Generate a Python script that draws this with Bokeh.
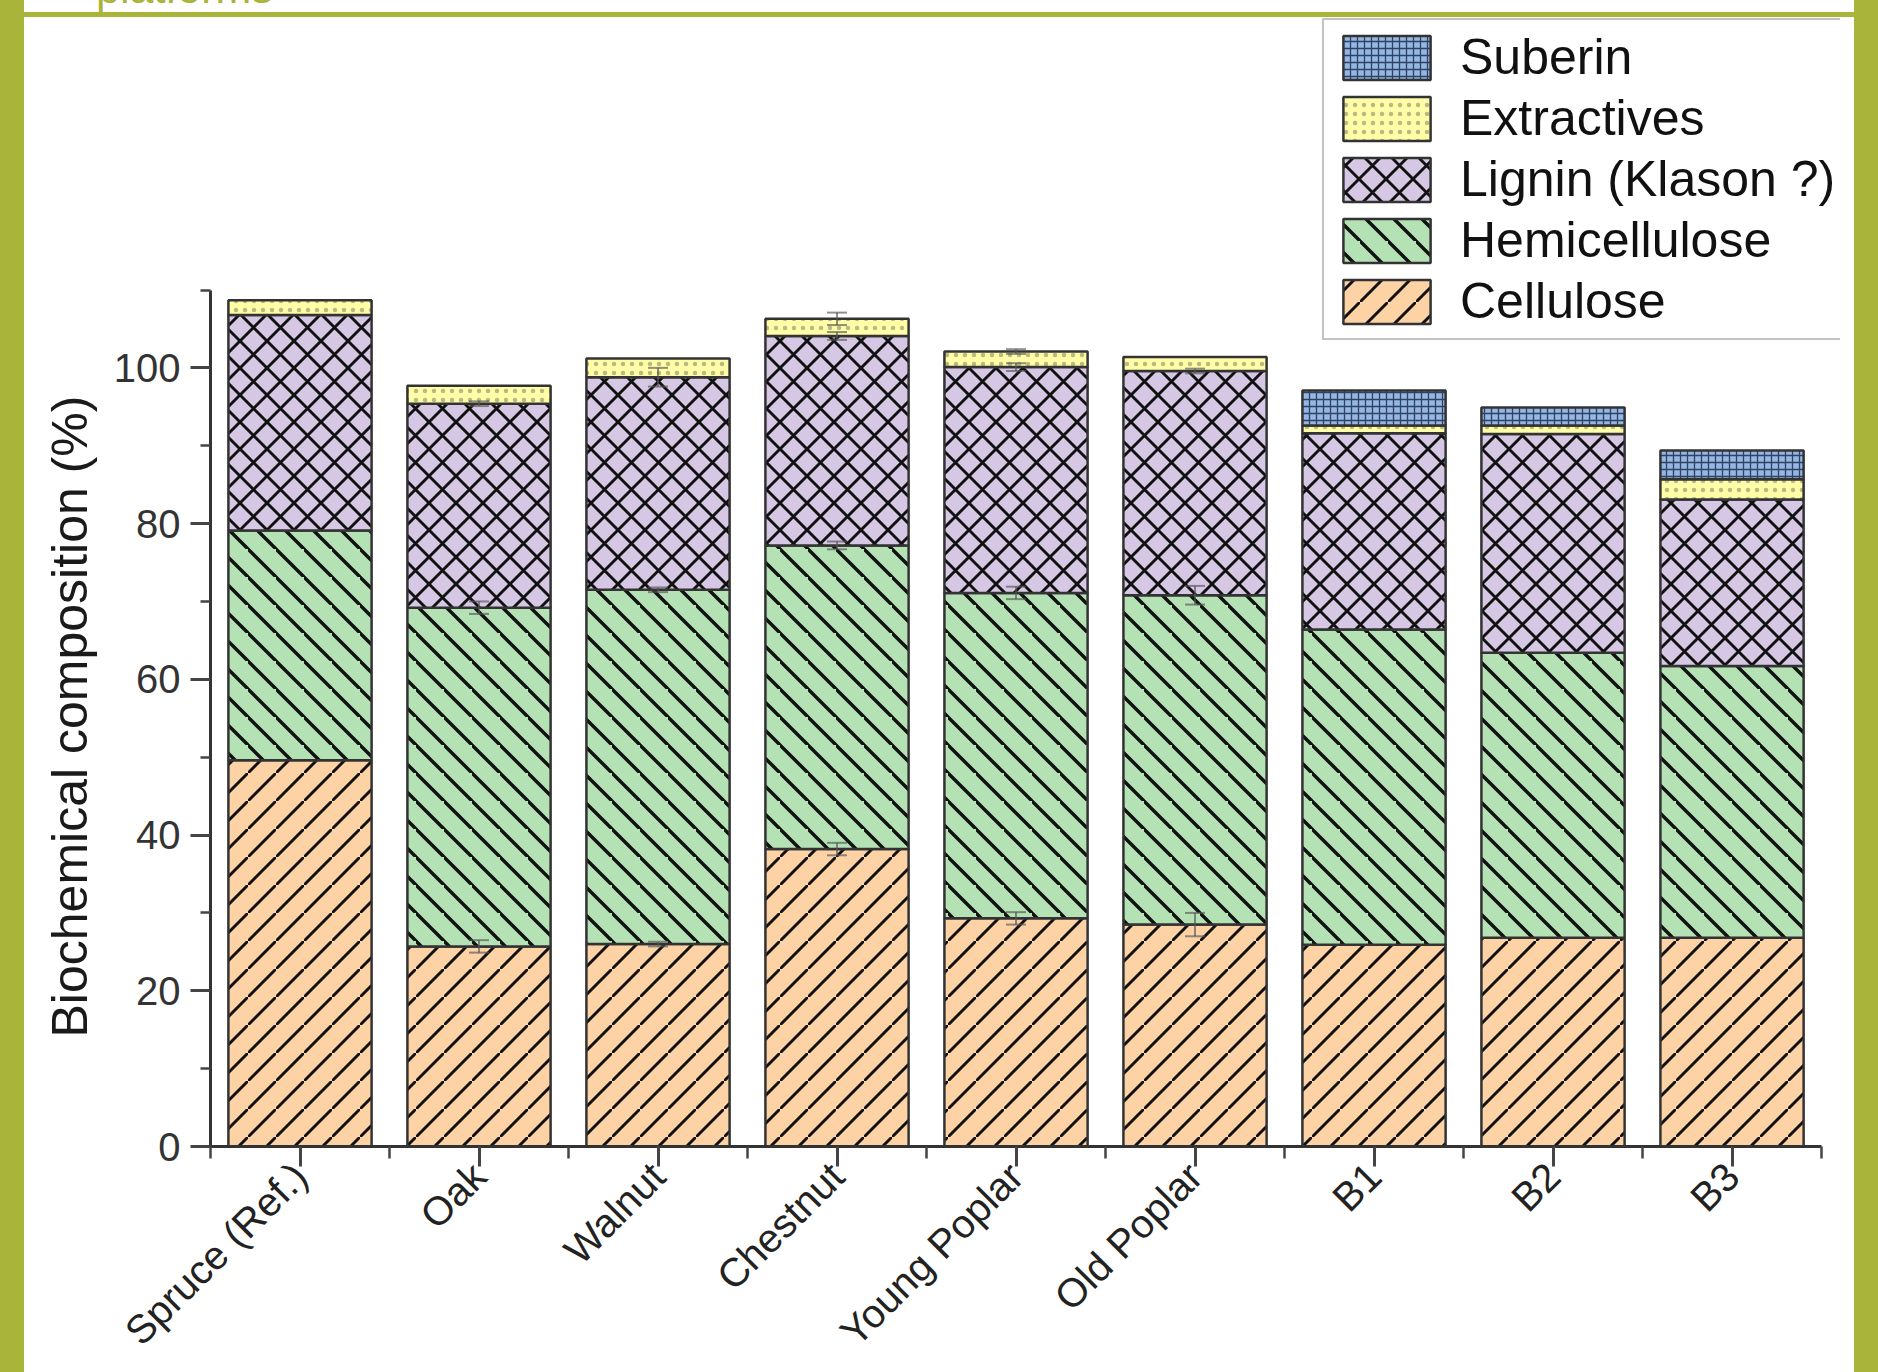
import math
import base64
import numpy as np
from bokeh.plotting import figure
from bokeh.models import (ColumnDataSource, FixedTicker, Legend, LegendItem, Whisker,
                          TeeHead, Spacer, Range1d, ImageURLTexture, Div, Title)
from bokeh.core.properties import value
from bokeh.layouts import row, column
from bokeh.embed import file_html
from bokeh.resources import INLINE

# ---------------- data ----------------
categories = ["Spruce (Ref.)", "Oak", "Walnut", "Chestnut", "Young Poplar",
              "Old Poplar", "B1", "B2", "B3"]
cellulose     = [49.6, 25.7, 26.0, 38.2, 29.3, 28.5, 25.9, 26.8, 26.8]
hemicellulose = [29.5, 43.5, 45.5, 39.0, 41.8, 42.3, 40.5, 36.6, 34.9]
lignin        = [27.7, 26.2, 27.3, 26.9, 29.0, 28.8, 25.2, 28.1, 21.4]
extractives   = [1.9, 2.3, 2.4, 2.2, 2.0, 1.8, 1.0, 1.1, 2.6]
suberin       = [0.0, 0.0, 0.0, 0.0, 0.0, 0.0, 4.5, 2.3, 3.7]

cellulose_err     = [0.0, 0.8, 0.3, 0.8, 0.8, 1.5, 0.0, 0.0, 0.0]
hemicellulose_err = [0.0, 0.8, 0.3, 0.5, 0.8, 1.2, 0.0, 0.0, 0.0]
lignin_err        = [0.0, 0.3, 1.2, 0.5, 0.5, 0.3, 0.0, 0.0, 0.0]
extractives_err   = [0.0, 0.0, 0.0, 0.8, 0.3, 0.0, 0.0, 0.0, 0.0]
suberin_err       = [0.0, 0.0, 0.0, 0.0, 0.0, 0.0, 0.0, 0.0, 0.0]

series_names = ["Cellulose", "Hemicellulose", "Lignin (Klason ?)", "Extractives", "Suberin"]
y_ticks = [0, 20, 40, 60, 80, 100]
y_minor_ticks = [10, 30, 50, 70, 90, 110]
y_axis_max = 110
y_label = "Biochemical composition (%)"
header_text = "platforms"

# ---------------- styles ----------------
GREEN = "#A9B43A"
FONT = "Liberation Sans"


def svg_tile(size, paths, width):
    svg = ("<svg xmlns='http://www.w3.org/2000/svg' width='%d' height='%d'>"
           "<path d='%s' stroke='#111111' stroke-width='%.1f' fill='none'/></svg>"
           % (size, size, paths, width))
    return "data:image/svg+xml;base64," + base64.b64encode(svg.encode()).decode()


def right_lines(s):   # "/" at 45 degrees
    return "M%d,%d L%d,%d M%d,%d L%d,%d M%d,%d L%d,%d" % (
        -s, 2 * s, 2 * s, -s, -2 * s, s, s, -2 * s, 0, 3 * s, 3 * s, 0)


def left_lines(s):    # "\" at 45 degrees
    return "M%d,%d L%d,%d M%d,%d L%d,%d M%d,%d L%d,%d" % (
        -s, -s, 2 * s, 2 * s, -2 * s, -s, s, 2 * s, 0, -2 * s, 3 * s, s)


TEX_RIGHT = ImageURLTexture(url=svg_tile(28, right_lines(28), 3.0))
TEX_LEFT = ImageURLTexture(url=svg_tile(28, left_lines(28), 3.4))
TEX_CROSS = ImageURLTexture(url=svg_tile(27, right_lines(27) + " " + left_lines(27), 2.9))

fills = ["#FDD3A6", "#B5E2B4", "#D6C7E4", "#FFFDA6", "#93B6E2"]
hatches = ["cel", "hem", "lig", ".", "+"]
hatch_extra = {"cel": TEX_RIGHT, "hem": TEX_LEFT, "lig": TEX_CROSS}
hatch_scales = [28, 28, 27, 9, 7]
hatch_weights = [2.2, 2.6, 2.2, 1.6, 1.3]
hatch_colors = ["#111111", "#111111", "#111111", "#8c8c6a", "#1f2d4a"]
hatch_alphas = [1.0, 1.0, 1.0, 0.6, 0.85]

W_TOTAL, H_TOTAL = 1878, 1372
SIDE = 24
TOP_TXT, TOP_LINE = 12, 5
PW = W_TOTAL - 2 * SIDE
PH = H_TOTAL - TOP_TXT - TOP_LINE

xs = np.arange(1, len(categories) + 1, dtype=float)

p = figure(width=PW, height=PH, x_range=Range1d(0.5, 9.606),
           y_range=Range1d(0, 145), output_backend="svg", toolbar_location=None,
           min_border_left=186, min_border_right=14, min_border_top=0,
           min_border_bottom=150)
p.outline_line_color = None
p.xgrid.visible = False
p.ygrid.visible = False
p.background_fill_color = "white"
p.border_fill_color = "white"

series = [cellulose, hemicellulose, lignin, extractives, suberin]
errors = [cellulose_err, hemicellulose_err, lignin_err, extractives_err, suberin_err]
bottom = np.zeros(len(categories))
renderers = []
wb, wu, wl = [], [], []
for i, (name, vals, errs) in enumerate(zip(series_names, series, errors)):
    v = np.array(vals, dtype=float)
    top = bottom + v
    mask = v > 0
    src = ColumnDataSource(dict(x=xs[mask], bottom=bottom[mask], top=top[mask]))
    r = p.vbar(x="x", bottom="bottom", top="top", width=0.8, source=src,
               fill_color=fills[i], line_color="#333333", line_width=2.5,
               hatch_pattern=value(hatches[i]), hatch_extra=hatch_extra,
               hatch_scale=hatch_scales[i], hatch_alpha=hatch_alphas[i],
               hatch_weight=hatch_weights[i], hatch_color=hatch_colors[i])
    renderers.append(r)
    e = np.array(errs, dtype=float)
    for k in range(len(categories)):
        if e[k] > 0:
            wb.append(xs[k]); wu.append(top[k] + e[k]); wl.append(top[k] - e[k])
    bottom = top

wsrc = ColumnDataSource(dict(base=wb, upper=wu, lower=wl))
whisk = Whisker(source=wsrc, base="base", upper="upper", lower="lower",
                line_color="#555555", line_width=2, line_alpha=0.65, level="overlay",
                upper_head=TeeHead(size=20, line_color="#555555", line_width=2, line_alpha=0.65),
                lower_head=TeeHead(size=20, line_color="#555555", line_width=2, line_alpha=0.65))
p.add_layout(whisk)

# x axis
xa = p.xaxis[0]
xa.bounds = (0.5, len(categories) + 0.5)
xa.ticker = FixedTicker(ticks=list(xs), minor_ticks=list(xs - 0.5) + [xs[-1] + 0.5])
xa.major_label_overrides = {float(x): c for x, c in zip(xs, categories)}
xa.major_label_orientation = math.pi / 4
xa.major_label_text_font = FONT
xa.major_label_text_font_size = "40px"
xa.major_label_text_color = "#222222"
xa.major_label_standoff = 3
xa.axis_line_color = "#333333"
xa.axis_line_width = 3
xa.major_tick_in = 0
xa.major_tick_out = 20
xa.minor_tick_in = 0
xa.minor_tick_out = 12
xa.major_tick_line_color = "#444444"
xa.major_tick_line_width = 3
xa.minor_tick_line_color = "#444444"
xa.minor_tick_line_width = 2.5

# y axis
ya = p.yaxis[0]
ya.bounds = (0, y_axis_max)
ya.ticker = FixedTicker(ticks=y_ticks, minor_ticks=y_minor_ticks)
ya.major_label_text_font = FONT
ya.major_label_text_font_size = "40px"
ya.major_label_text_color = "#333333"
ya.major_label_standoff = 10
ya.axis_line_color = "#333333"
ya.axis_line_width = 3
ya.major_tick_in = 0
ya.major_tick_out = 20
ya.minor_tick_in = 0
ya.minor_tick_out = 10
ya.major_tick_line_color = "#444444"
ya.major_tick_line_width = 3
ya.minor_tick_line_color = "#444444"
ya.minor_tick_line_width = 2.5

# y-axis title, centred on the 0-110 span of the axis (not on the taller frame)
ytitle = Title(text=y_label, align="left", offset=109, standoff=26,
               text_font=FONT, text_font_size="50px", text_font_style="normal",
               text_color="#1a1a1a")
p.add_layout(ytitle, "left")

# legend (top entry = Suberin)
items = [LegendItem(label=series_names[i], renderers=[renderers[i]]) for i in [4, 3, 2, 1, 0]]
legend = Legend(items=items, location=(1112, 806))
legend.label_text_font = FONT
legend.label_text_font_size = "50px"
legend.label_text_color = "#111111"
legend.glyph_width = 109
legend.glyph_height = 55
legend.label_height = 55
legend.spacing = 3
legend.padding = 8
legend.margin = 0
legend.label_standoff = 19
legend.border_line_color = "#888888"
legend.border_line_width = 2
legend.background_fill_color = "white"
legend.background_fill_alpha = 1.0
p.add_layout(legend, "center")

# slide header strip (text cut off at the top, as in the reference)
strip = Div(text='<span style="position:relative;top:-33px">%s</span>' % header_text,
            width=PW, height=TOP_TXT, margin=0,
            styles={"overflow": "hidden", "height": "%dpx" % TOP_TXT,
                    "color": GREEN, "font-family": FONT, "font-size": "43px",
                    "line-height": "43px", "padding-left": "72px",
                    "box-sizing": "border-box", "white-space": "nowrap"})

# page frame (green slide border)
left_bar = Spacer(width=SIDE, height=H_TOTAL, styles={"background-color": GREEN})
right_bar = Spacer(width=SIDE, height=H_TOTAL, styles={"background-color": GREEN})
top_line = Spacer(width=PW, height=TOP_LINE, styles={"background-color": GREEN})

layout = row(left_bar, column(strip, top_line, p), right_bar)

open("out.html", "w").write(file_html(layout, INLINE))
